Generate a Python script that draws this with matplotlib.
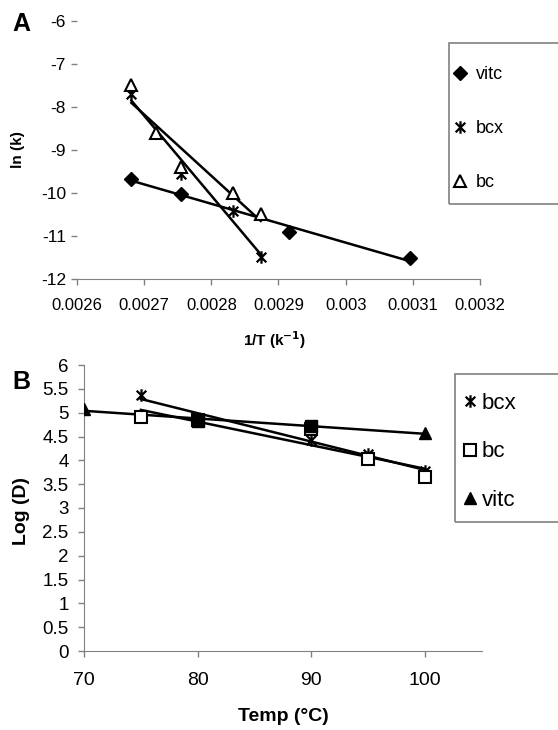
import numpy as np
import matplotlib
matplotlib.use("Agg")
import matplotlib.pyplot as plt
from matplotlib.path import Path
from matplotlib.patches import Rectangle
from matplotlib.lines import Line2D

plt.rcParams['font.family'] = ['Liberation Sans', 'DejaVu Sans']
plt.rcParams['axes.unicode_minus'] = False

# panel A: ln(k) vs 1/T
a_vitc_x = [1/373, 1/363, 1/343, 1/323]
a_vitc_y = [-9.68, -10.02, -10.9, -11.52]
a_bcx_x = [1/373, 1/363, 1/353, 1/348]
a_bcx_y = [-7.7, -9.55, -10.42, -11.5]
a_bc_x = [1/373, 1/368, 1/363, 1/353, 1/348]
a_bc_y = [-7.5, -8.6, -9.4, -10.0, -10.5]

# panel B: Log(D) vs temperature
b_bcx_t = [75, 80, 90, 95, 100]
b_bcx_d = [5.38, 4.85, 4.42, 4.13, 3.78]
b_bc_t = [75, 80, 90, 95, 100]
b_bc_d = [4.9, 4.85, 4.66, 4.02, 3.65]
b_vitc_t = [70, 80, 90, 100]
b_vitc_d = [5.07, 4.83, 4.72, 4.57]

GRAY = '#808080'

# excel style star: X plus vertical bar
star = Path([(-1, -1), (1, 1), (-1, 1), (1, -1), (0, -1.3), (0, 1.3)],
            [Path.MOVETO, Path.LINETO, Path.MOVETO, Path.LINETO, Path.MOVETO, Path.LINETO])


def trend(ax, x, y):
    k, l = np.polyfit(x, y, 1)
    xs = np.array([min(x), max(x)])
    ax.plot(xs, k*xs + l, color='black', lw=1.8, zorder=2)


def style(ax, left_spine):
    for s in ['top', 'right']:
        ax.spines[s].set_visible(False)
    ax.spines['left'].set_visible(left_spine)
    ax.spines['left'].set_color(GRAY)
    ax.spines['bottom'].set_color(GRAY)
    ax.tick_params(color=GRAY, length=4, width=1, direction='out')


def legend_box(fig, x0, y0, x1, y1):
    W, H = fig.get_size_inches() * fig.dpi
    fig.patches.append(Rectangle((x0/W, 1 - y1/H), (x1 - x0)/W, (y1 - y0)/H,
                                 transform=fig.transFigure, fill=False,
                                 edgecolor=GRAY, lw=1.2, figure=fig))


fig = plt.figure(figsize=(5.58, 7.30), dpi=100)

# ---- A ----
axA = fig.add_axes([77/558, 1 - 279/730, 403/558, 258/730])
trend(axA, a_vitc_x, a_vitc_y)
trend(axA, a_bcx_x, a_bcx_y)
trend(axA, a_bc_x, a_bc_y)
axA.plot(a_vitc_x, a_vitc_y, 'D', color='black', ms=7, ls='none', zorder=3)
axA.plot(a_bcx_x, a_bcx_y, marker=star, color='black', mew=1.6, ms=9, ls='none', zorder=3)
axA.plot(a_bc_x, a_bc_y, '^', mfc='white', mec='black', mew=1.5, ms=9, ls='none', zorder=3)
axA.set_xlim(0.0026, 0.0032)
axA.set_ylim(-12, -6)
axA.set_xticks(np.arange(0.0026, 0.00321, 0.0001))
axA.set_xticklabels(['0.0026', '0.0027', '0.0028', '0.0029', '0.003', '0.0031', '0.0032'])
axA.set_yticks(range(-12, -5))
style(axA, False)
axA.tick_params(axis='y', labelsize=12.5, pad=4)
axA.tick_params(axis='x', labelsize=12, pad=10)
axA.set_ylabel('ln (k)', fontsize=11, fontweight='bold')
axA.yaxis.set_label_coords(-0.13, 0.5)
axA.set_xlabel('1/T (k$^{\\mathbf{-1}}$)', fontsize=11, fontweight='bold')
axA.xaxis.set_label_coords(0.49, -0.194)
fig.text(12/558, 1 - 31/730, 'A', fontsize=18, fontweight='bold')

legend_box(fig, 449, 43, 575, 204)
hA = [Line2D([], [], marker='D', color='black', ms=7, ls='none'),
      Line2D([], [], marker=star, color='black', mew=1.6, ms=9, ls='none'),
      Line2D([], [], marker='^', mfc='white', mec='black', mew=1.5, ms=9, ls='none')]
fig.legend(hA, ['vitc', 'bcx', 'bc'], loc='upper left', frameon=False,
           bbox_to_anchor=(437/558, 1 - 50/730), fontsize=13,
           handlelength=0.8, handletextpad=0.45, labelspacing=2.05)

# ---- B ----
axB = fig.add_axes([84/558, 1 - 651/730, 398/558, 286/730])
trend(axB, b_bcx_t, b_bcx_d)
trend(axB, b_bc_t, b_bc_d)
trend(axB, b_vitc_t, b_vitc_d)
axB.plot(b_bcx_t, b_bcx_d, marker=star, color='black', mew=1.6, ms=9, ls='none', zorder=3)
axB.plot(b_bc_t, b_bc_d, 's', mfc='white', mec='black', mew=1.5, ms=8, ls='none', zorder=3)
axB.plot(b_vitc_t[::3], b_vitc_d[::3], '^', color='black', ms=9, ls='none', zorder=4)
axB.plot(b_vitc_t[1:3], b_vitc_d[1:3], 's', color='black', ms=9, ls='none', zorder=4)
axB.set_xlim(70, 105)
axB.set_ylim(0, 6)
axB.set_xticks([70, 80, 90, 100])
axB.set_yticks(np.arange(0, 6.01, 0.5))
axB.set_yticklabels(['0', '0.5', '1', '1.5', '2', '2.5', '3', '3.5', '4', '4.5', '5', '5.5', '6'])
style(axB, True)
axB.tick_params(axis='y', labelsize=13.5, pad=7)
axB.tick_params(axis='x', labelsize=14, pad=11)
axB.set_ylabel('Log (D)', fontsize=14, fontweight='bold')
axB.yaxis.set_label_coords(-0.136, 0.49)
axB.set_xlabel('Temp (°C)', fontsize=14, fontweight='bold')
axB.xaxis.set_label_coords(0.5, -0.2)
fig.text(12/558, 1 - 389/730, 'B', fontsize=18, fontweight='bold')

legend_box(fig, 455, 374, 575, 522)
hB = [Line2D([], [], marker=star, color='black', mew=1.6, ms=9, ls='none'),
      Line2D([], [], marker='s', mfc='white', mec='black', mew=1.5, ms=8, ls='none'),
      Line2D([], [], marker='^', color='black', ms=9, ls='none')]
fig.legend(hB, ['bcx', 'bc', 'vitc'], loc='upper left', frameon=False,
           bbox_to_anchor=(442/558, 1 - 373/730), fontsize=16,
           handlelength=0.7, handletextpad=0.2, labelspacing=1.23)

fig.savefig('out.png', dpi=100)
